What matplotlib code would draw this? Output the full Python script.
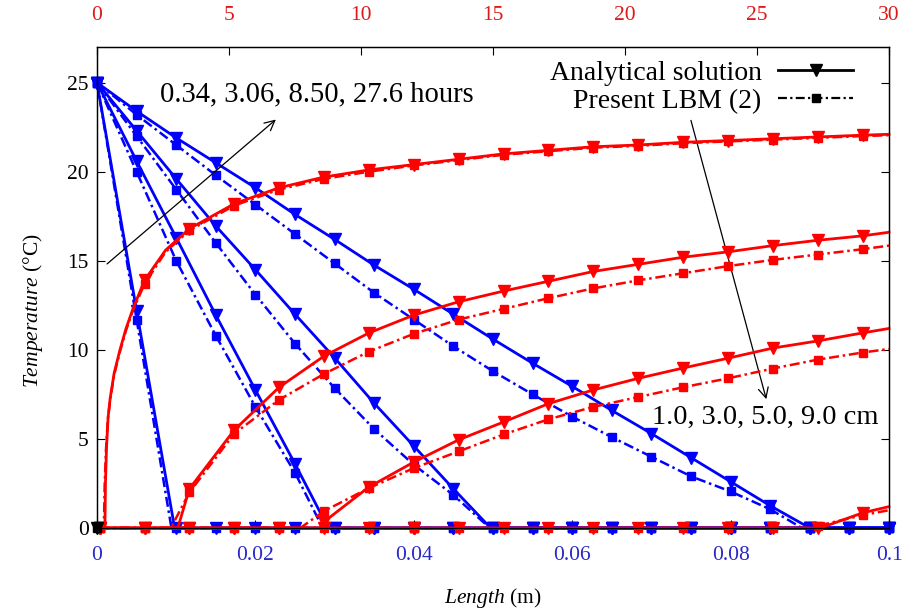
import numpy as np
import matplotlib
matplotlib.use('Agg')
import matplotlib.pyplot as plt

plt.rcParams['font.family'] = ['Liberation Serif', 'DejaVu Serif']
plt.rcParams['mathtext.fontset'] = 'custom'
plt.rcParams['mathtext.rm'] = 'Liberation Serif'
plt.rcParams['mathtext.it'] = 'Liberation Serif:italic'

# --- temperature profiles T(x) at 0.34, 3.06, 8.50, 27.6 h (bottom axis, blue)
length_m = [0.000, 0.005, 0.010, 0.015, 0.020, 0.025, 0.030, 0.035, 0.040, 0.045, 0.050,
            0.055, 0.060, 0.065, 0.070, 0.075, 0.080, 0.085, 0.090, 0.095, 0.100]
exact_profiles = [
    [25, 12.2, 0, 0, 0, 0, 0, 0, 0, 0, 0, 0, 0, 0, 0, 0, 0, 0, 0, 0, 0],
    [25, 20.6, 16.3, 11.95, 7.75, 3.6, 0, 0, 0, 0, 0, 0, 0, 0, 0, 0, 0, 0, 0, 0, 0],
    [25, 22.3, 19.6, 16.95, 14.5, 12.0, 9.55, 7.0, 4.6, 2.2, 0, 0, 0, 0, 0, 0, 0, 0, 0, 0, 0],
    [25, 23.4, 21.9, 20.5, 19.1, 17.6, 16.2, 14.75, 13.4, 12.0, 10.6, 9.25, 7.95, 6.6, 5.3,
     3.95, 2.6, 1.25, 0, 0, 0],
]
exact_fronts = [0.0098, 0.0292, 0.0497, 0.0900]
lbm_profiles = [
    [25, 11.7, 0, 0, 0, 0, 0, 0, 0, 0, 0, 0, 0, 0, 0, 0, 0, 0, 0, 0, 0],
    [25, 20.0, 15.0, 10.8, 6.8, 3.1, 0, 0, 0, 0, 0, 0, 0, 0, 0, 0, 0, 0, 0, 0, 0],
    [25, 22.0, 19.0, 16.0, 13.1, 10.35, 7.85, 5.55, 3.55, 1.85, 0, 0, 0, 0, 0, 0, 0, 0, 0, 0, 0],
    [25, 23.2, 21.5, 19.8, 18.15, 16.5, 14.85, 13.2, 11.7, 10.2, 8.8, 7.5, 6.25, 5.1, 4.0,
     2.9, 2.05, 1.05, 0, 0, 0],
]
lbm_fronts = [0.0094, 0.0285, 0.0496, 0.0890]

# --- temperature histories T(t) at 1, 3, 5, 9 cm (top axis, red)
time_h = [0.1, 1.8, 3.5, 5.2, 6.9, 8.6, 10.3, 12.0, 13.7, 15.4, 17.1, 18.8, 20.5, 22.2,
          23.9, 25.6, 27.3, 29.0]
exact_hist = [
    [0, 13.9, 16.8, 18.2, 19.1, 19.7, 20.1, 20.4, 20.7, 21.0, 21.2, 21.4, 21.5, 21.65,
     21.75, 21.85, 21.95, 22.05],
    [0, 0, 2.2, 5.5, 7.9, 9.65, 10.95, 11.95, 12.7, 13.3, 13.85, 14.4, 14.8, 15.2, 15.5,
     15.85, 16.15, 16.4],
    [0, 0, 0, 0, 0, 0.35, 2.3, 3.7, 4.95, 5.95, 6.98, 7.75, 8.4, 8.98, 9.53, 10.1, 10.5, 10.95],
    [0, 0, 0, 0, 0, 0, 0, 0, 0, 0, 0, 0, 0, 0, 0, 0, 0, 0.85],
]
exact_extra_t = [[0.3, 0.32, 0.36, 0.42, 0.5, 0.65, 0.87, 1.1, 1.36, 2.6, 30.0],
                 [3.06, 30.0], [8.5, 30.0], [27.4, 30.0]]
exact_extra_T = [[0, 2.5, 4.5, 6.2, 7.3, 8.7, 10.0, 11.2, 12.3, 15.6, 22.1],
                 [0, 16.6], [0, 11.2], [0, 1.2]]
lbm_hist = [
    [0, 13.7, 16.7, 18.1, 19.0, 19.6, 20.0, 20.35, 20.65, 20.95, 21.15, 21.35, 21.45, 21.6,
     21.7, 21.8, 21.9, 22.0],
    [0, 0, 2.0, 5.3, 7.2, 8.65, 9.9, 10.9, 11.7, 12.3, 12.9, 13.45, 13.9, 14.3, 14.7,
     15.05, 15.35, 15.65],
    [0, 0, 0, 0, 0, 0.95, 2.24, 3.36, 4.3, 5.25, 6.1, 6.8, 7.35, 7.9, 8.4, 8.95, 9.45, 9.85],
    [0, 0, 0, 0, 0, 0, 0, 0, 0, 0, 0, 0, 0, 0, 0, 0, 0.12, 0.72],
]
lbm_extra_t = [[0.26, 0.29, 0.34, 0.41, 0.5, 0.65, 0.87, 1.1, 1.36, 2.6, 30.0],
               [2.8, 30.0], [7.7, 30.0], [27.0, 30.0]]
lbm_extra_T = [[0, 2.4, 4.4, 6.1, 7.2, 8.6, 9.9, 11.1, 12.2, 15.5, 22.05],
               [0, 15.85], [0, 10.05], [0, 1.0]]


def merge(xs, ys, ex, ey):
    # extra points (melt front, curve ends) get no marker
    x = np.concatenate([xs, ex])
    y = np.concatenate([ys, ey])
    mark = np.r_[np.ones(len(xs), bool), np.zeros(len(ex), bool)]
    o = np.argsort(x, kind='stable')
    return x[o], y[o], list(mark[o])


BLUE, RED = '#0000ff', '#ff0000'
DASHDOT = (0, (4, 1.5, 1, 1.5))

fig = plt.figure(figsize=(9.13, 6.15), dpi=100)
ax = fig.add_axes([97/913, 87/615, 792/913, 481/615])
ax2 = ax.twiny()

for temps, front in zip(lbm_profiles, lbm_fronts):
    x, y, mk = merge(length_m, temps, [front], [0.0])
    ax.plot(x, y, color=BLUE, lw=1.8, ls=DASHDOT, marker='s', ms=6, markevery=mk, clip_on=False)
for temps, front in zip(exact_profiles, exact_fronts):
    x, y, mk = merge(length_m, temps, [front], [0.0])
    ax.plot(x, y, color=BLUE, lw=2.0, marker='v', ms=9, markevery=mk, clip_on=False)

for temps, et, eT in zip(lbm_hist, lbm_extra_t, lbm_extra_T):
    x, y, mk = merge(time_h, temps, et, eT)
    ax2.plot(x, y, color=RED, lw=1.8, ls=DASHDOT, marker='s', ms=6, markevery=mk, clip_on=False)
for temps, et, eT in zip(exact_hist, exact_extra_t, exact_extra_T):
    x, y, mk = merge(time_h, temps, et, eT)
    ax2.plot(x, y, color=RED, lw=2.0, marker='v', ms=9, markevery=mk, clip_on=False)

# legend entries (gnuplot style, drawn at the origin on top of everything)
h1, = ax2.plot([0], [0], color='k', lw=2.0, marker='v', ms=9, clip_on=False, zorder=5,
               label='Analytical solution')
h2, = ax2.plot([0], [0], color='k', lw=1.6, ls=DASHDOT, marker='s', ms=6, clip_on=False,
               zorder=5, label='Present LBM (2)')
ax2.legend(handles=[h1, h2], loc='upper right', bbox_to_anchor=(0.955, 0.972),
           frameon=False, markerfirst=False, fontsize=20, handlelength=2.7,
           handletextpad=0.6, labelspacing=0.1, borderpad=0, borderaxespad=0, numpoints=1)

ax.annotate('', xy=(0.02285, 23.03), xytext=(0.0010, 14.72),
            arrowprops=dict(arrowstyle='->', lw=0.9, color='k', mutation_scale=18))
ax.text(0.0080, 24.33, '0.34, 3.06, 8.50, 27.6 hours', fontsize=20.6, va='center')
ax.annotate('', xy=(0.0846, 7.08), xytext=(0.0749, 23.03),
            arrowprops=dict(arrowstyle='->', lw=0.9, color='k', mutation_scale=18))
ax.text(0.0701, 6.18, '1.0, 3.0, 5.0, 9.0 cm', fontsize=20.5, va='center')

ax.set_xlim(0, 0.1)
ax.set_ylim(0, 27)
ax2.set_xlim(0, 30)
ax.set_xticks([0, 0.02, 0.04, 0.06, 0.08, 0.1], ['0', '0.02', '0.04', '0.06', '0.08', '0.1'])
ax.set_yticks([0, 5, 10, 15, 20, 25])
ax2.set_xticks([0, 5, 10, 15, 20, 25, 30])

ax.tick_params(axis='x', direction='in', length=6, labelcolor='#2828c8', pad=13, labelsize=15.5)
ax.tick_params(axis='y', direction='in', length=6, right=True, pad=6, labelsize=15.5)
ax2.tick_params(axis='x', direction='in', length=6, labelcolor='#e01818', pad=16, labelsize=15.5)
for a in (ax, ax2):
    for s in a.spines.values():
        s.set_linewidth(0.9)

ax.set_xlabel(r'$Length$ (m)', fontsize=15.5)
ax.set_ylabel(r'$Temperature$ (°C)', fontsize=15.5)
ax.xaxis.set_label_coords(0.5, -0.121)
ax.yaxis.set_label_coords(-0.066, 0.453)

fig.savefig('out.png', dpi=100)
